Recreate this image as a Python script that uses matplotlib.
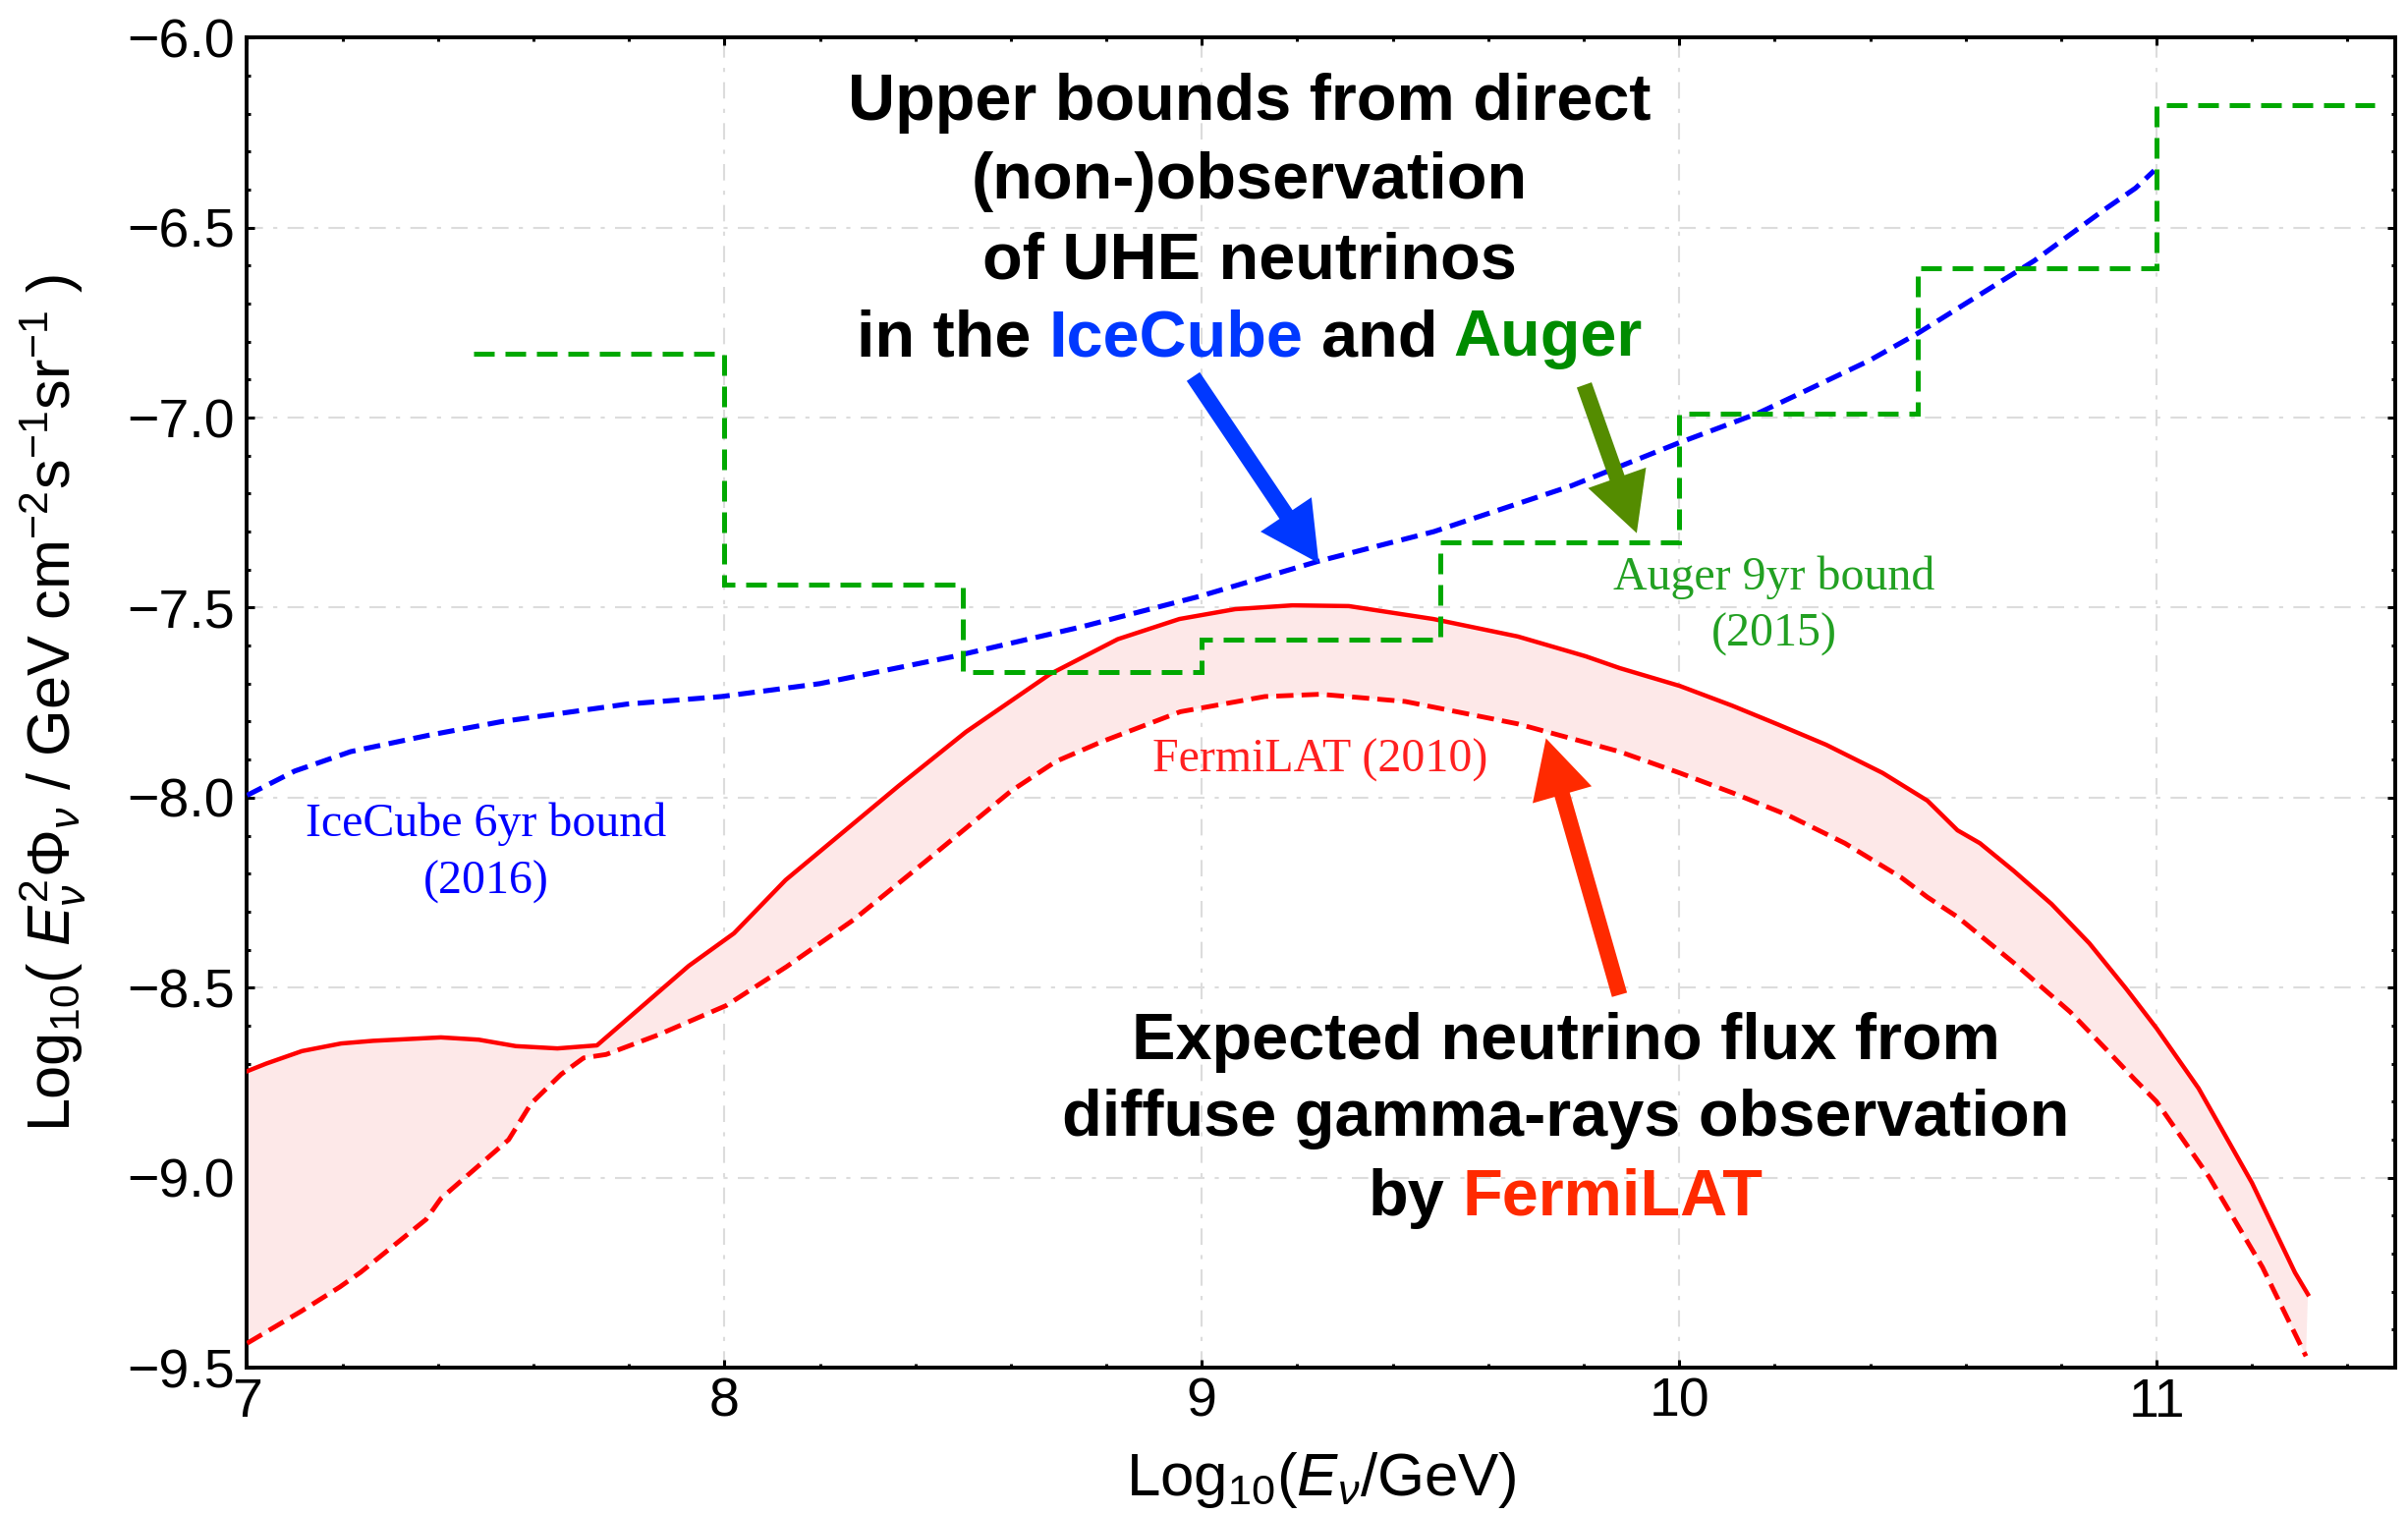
import numpy as np
import matplotlib
matplotlib.use('Agg')
import matplotlib.pyplot as plt
from matplotlib.patches import FancyArrowPatch, ArrowStyle
from matplotlib.ticker import MultipleLocator

# ---------------- data ----------------
icecube_x = [7.0, 7.1, 7.217, 7.38, 7.533, 7.795, 7.994, 8.128, 8.2, 8.482, 8.75,
             8.996, 9.244, 9.486, 9.773, 9.996, 10.164, 10.242, 10.398, 10.5,
             10.744, 10.888, 10.956, 10.995]
icecube_y = [-7.994, -7.93, -7.879, -7.836, -7.80, -7.754, -7.734, -7.712, -7.70,
             -7.628, -7.55, -7.47, -7.378, -7.30, -7.18, -7.068, -6.989, -6.943,
             -6.85, -6.778, -6.587, -6.455, -6.396, -6.35]

auger_edges = [7.475, 8.0, 8.5, 9.0, 9.5, 10.0, 10.5, 11.0, 11.456]
auger_vals = [-6.831, -7.440, -7.669, -7.585, -7.328, -6.989, -6.606, -6.178]

fermi_up_x = [7.0, 7.04, 7.115, 7.197, 7.264, 7.406, 7.485, 7.563, 7.65, 7.733,
              7.925, 8.02, 8.128, 8.365, 8.506, 8.682, 8.824, 8.953, 9.07, 9.19,
              9.308, 9.485, 9.662, 9.804, 9.875, 10.001, 10.111, 10.206, 10.308,
              10.426, 10.52, 10.583, 10.63, 10.701, 10.78, 10.859, 10.937, 11.0,
              11.088, 11.2, 11.29, 11.317]
fermi_up_y = [-8.72, -8.70, -8.667, -8.647, -8.64, -8.631, -8.637, -8.654, -8.66,
              -8.652, -8.443, -8.357, -8.217, -7.969, -7.827, -7.675, -7.583,
              -7.530, -7.504, -7.494, -7.496, -7.53, -7.576, -7.628, -7.659,
              -7.706, -7.758, -7.807, -7.861, -7.935, -8.008, -8.086, -8.12,
              -8.193, -8.28, -8.383, -8.504, -8.607, -8.765, -9.014, -9.25,
              -9.307]

fermi_lo_x = [7.0, 7.113, 7.194, 7.238, 7.375, 7.406, 7.548, 7.595, 7.658, 7.705,
              7.752, 7.862, 8.004, 8.13, 8.27, 8.423, 8.60, 8.694, 8.79, 8.955,
              9.132, 9.249, 9.426, 9.662, 9.875, 10.001, 10.111, 10.229, 10.347,
              10.465, 10.52, 10.583, 10.701, 10.819, 10.898, 10.953, 11.0, 11.111,
              11.222, 11.313]
fermi_lo_y = [-9.436, -9.352, -9.288, -9.249, -9.11, -9.055, -8.9, -8.805, -8.728,
              -8.685, -8.676, -8.624, -8.547, -8.445, -8.322, -8.166, -7.983,
              -7.905, -7.853, -7.774, -7.734, -7.728, -7.747, -7.806, -7.879,
              -7.935, -7.987, -8.047, -8.12, -8.21, -8.262, -8.314, -8.435,
              -8.564, -8.667, -8.74, -8.80, -9.0, -9.236, -9.47]

x_ticks = [7, 8, 9, 10, 11]
y_ticks = [-9.5, -9.0, -8.5, -8.0, -7.5, -7.0, -6.5, -6.0]

# ---------------- style ----------------
plt.rcParams['font.family'] = ['Liberation Sans', 'DejaVu Sans']
plt.rcParams['mathtext.fontset'] = 'custom'
plt.rcParams['mathtext.rm'] = 'Liberation Sans'
plt.rcParams['mathtext.it'] = 'Liberation Sans:italic'
plt.rcParams['mathtext.bf'] = 'Liberation Sans:bold'

BLUE_LINE = '#0000ff'
GREEN_LINE = '#00a800'
RED_LINE = '#ff0000'
FILL = '#fde8e8'
BLUE_TXT = '#0038ff'
GREEN_TXT = '#008c00'
RED_TXT = '#ff2a00'
GREEN_ARROW = '#548c00'

fig = plt.figure(figsize=(24.51, 15.41), dpi=100)
ax = fig.add_axes([0.10261, 0.09669, 0.89209, 0.87846])

ax.set_xlim(7, 11.5)
ax.set_ylim(-9.5, -6.0)

# fill between the FermiLAT bounds
poly_x = np.concatenate([fermi_up_x, fermi_lo_x[::-1]])
poly_y = np.concatenate([fermi_up_y, fermi_lo_y[::-1]])
ax.fill(poly_x, poly_y, color=FILL, lw=0, zorder=1)

ax.plot(fermi_up_x, fermi_up_y, color=RED_LINE, lw=3.2, zorder=3)
ax.plot(fermi_lo_x, fermi_lo_y, color=RED_LINE, lw=3.5, zorder=3,
        dashes=(3.6, 1.7))
ax.plot(icecube_x, icecube_y, color=BLUE_LINE, lw=3.7, zorder=4,
        dashes=(3.3, 1.7))
ax.stairs(auger_vals, auger_edges, baseline=None, color=GREEN_LINE, lw=3.6,
          zorder=4, linestyle=(0, (4.2, 2.2)))

# axes styling
ax.set_xticks(x_ticks)
ax.set_yticks(y_ticks)
ax.set_xticklabels([str(v) for v in x_ticks])
ax.set_yticklabels([f'{v:.1f}'.replace('-', '\u2212') for v in y_ticks])
ax.xaxis.set_minor_locator(MultipleLocator(0.2))
ax.yaxis.set_minor_locator(MultipleLocator(0.1))
ax.tick_params(which='both', direction='in', top=True, right=True,
               width=2.2, color='black')
ax.tick_params(which='major', length=5.5)
ax.tick_params(which='minor', length=3)
ax.tick_params(axis='x', which='major', labelsize=40, pad=7)
ax.tick_params(axis='y', which='major', labelsize=40, pad=9)
for sp in ax.spines.values():
    sp.set_linewidth(2.8)
ax.grid(True, which='major', color='#dcdcdc', lw=1.5,
        linestyle=(0, (8, 5, 2, 5)))
ax.set_axisbelow(True)

ax.set_xlabel(r'Log$_{10}$($E_\nu$/GeV)', fontsize=44.5)
ax.xaxis.set_label_coords(0.5, -0.062)
ax.set_ylabel(r'Log$_{10}$( $E_\nu^2\Phi_\nu$ / GeV cm$^{-2}$s$^{-1}$sr$^{-1}$ )',
              fontsize=44)
ax.yaxis.set_label_coords(-0.074, 0.5)

# small serif labels
serif = ['Liberation Serif', 'DejaVu Serif']
ax.text(7.50, -8.101, 'IceCube 6yr bound', color=BLUE_LINE, fontsize=34.5,
        family=serif, ha='center', va='baseline')
ax.text(7.50, -8.254, '(2016)', color=BLUE_LINE, fontsize=34.5,
        family=serif, ha='center', va='baseline')
ax.text(10.199, -7.451, 'Auger 9yr bound', color='#22a022', fontsize=34.5,
        family=serif, ha='center', va='baseline')
ax.text(10.199, -7.602, '(2015)', color='#22a022', fontsize=34.5,
        family=serif, ha='center', va='baseline')
ax.text(9.248, -7.932, 'FermiLAT (2010)', color='#ff2020', fontsize=34.5,
        family=serif, ha='center', va='baseline')

# bold multi-coloured annotation blocks
renderer = fig.canvas.get_renderer()
BOLD = dict(fontsize=48, fontweight='bold')


def _width(s):
    t = ax.text(0, 0, s, **BOLD)
    w = t.get_window_extent(renderer=renderer).width
    t.remove()
    return w


def colored_line(x, y, parts):
    texts = [p for p, c in parts]
    full = ' '.join(texts)
    total = _width(full)
    x0, y0 = ax.transData.transform((x, y))
    left = x0 - total / 2.0
    inv = ax.transData.inverted()
    for i, (s, c) in enumerate(parts):
        cum = ' '.join(texts[:i + 1])
        off = _width(cum) - _width(s)
        xd, yd = inv.transform((left + off, y0))
        ax.text(xd, yd, s, color=c, ha='left', va='baseline', zorder=6, **BOLD)


top_lines = [
    [('Upper bounds from direct', 'black')],
    [('(non-)observation', 'black')],
    [('of UHE neutrinos', 'black')],
    [('in the', 'black'), ('IceCube', BLUE_TXT), ('and', 'black'),
     ('Auger', GREEN_TXT)],
]
top_base = [-6.216, -6.423, -6.633, -6.837]
for parts, yb in zip(top_lines, top_base):
    colored_line(9.10, yb, parts)

bot_lines = [
    [('Expected neutrino flux from', 'black')],
    [('diffuse gamma-rays observation', 'black')],
    [('by', 'black'), ('FermiLAT', RED_TXT)],
]
bot_base = [-8.688, -8.890, -9.099]
for parts, yb in zip(bot_lines, bot_base):
    colored_line(9.762, yb, parts)

# arrows
style = ArrowStyle.Simple(head_length=43, head_width=45, tail_width=11.5)
for (xa, ya), (xb, yb), col in [
        ((8.982, -6.892), (9.245, -7.383), BLUE_TXT),
        ((9.801, -6.914), (9.911, -7.304), GREEN_ARROW),
        ((9.875, -8.519), (9.721, -7.844), RED_TXT)]:
    arr = FancyArrowPatch((xa, ya), (xb, yb), arrowstyle=style,
                          mutation_scale=1, color=col, lw=0,
                          shrinkA=0, shrinkB=0, zorder=7)
    ax.add_patch(arr)

fig.savefig('out.png', dpi=100)
